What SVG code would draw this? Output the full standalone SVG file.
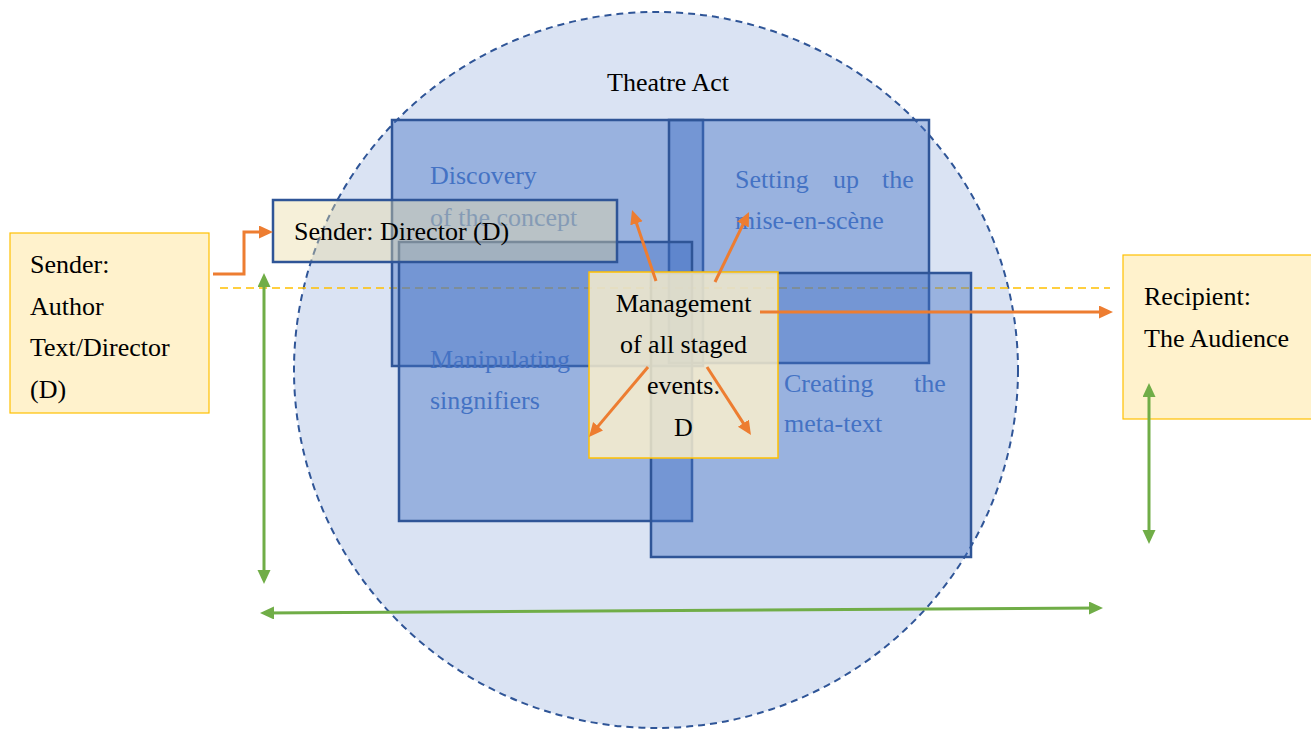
<svg xmlns="http://www.w3.org/2000/svg" width="1311" height="730" viewBox="0 0 1311 730">
  <style>
    .t { font-family: "Liberation Serif", "Times New Roman", serif; font-size: 26px; fill: #000; }
    .b { font-family: "Liberation Serif", "Times New Roman", serif; font-size: 26px; fill: #4472C4; }
    .phase { fill: #4472C4; fill-opacity: 0.43; stroke: #2F5597; stroke-width: 2.5; }
    .note { fill: #FFF2CC; stroke: #FFC000; stroke-width: 1.2; }
    .orange { fill: none; stroke: #ED7D31; stroke-width: 3; }
    .green { fill: none; stroke: #70AD47; stroke-width: 3; }
  </style>
  <defs>
    <marker id="arrO" markerUnits="userSpaceOnUse" markerWidth="16" markerHeight="14" refX="10" refY="6.5" orient="auto">
      <path d="M0,0 L14,6.5 L0,13 z" fill="#ED7D31"/>
    </marker>
    <marker id="arrG" markerUnits="userSpaceOnUse" markerWidth="16" markerHeight="14" refX="10" refY="6.5" orient="auto-start-reverse">
      <path d="M0,0 L14,6.5 L0,13 z" fill="#70AD47"/>
    </marker>
  </defs>

  <rect width="1311" height="730" fill="#FFFFFF"/>

  <!-- theatre act circle -->
  <g id="theatre-act">
    <ellipse cx="656" cy="370" rx="362" ry="358" fill="#DAE3F3" stroke="#2F5597" stroke-width="2" stroke-dasharray="7 5"/>
    <text class="t" x="607" y="91">Theatre Act</text>
  </g>

  <!-- communication axis -->
  <line x1="220" y1="288" x2="1110" y2="288" stroke="#FFC000" stroke-width="1.5" stroke-dasharray="8 5"/>

  <!-- phases of the staging -->
  <g id="discovery">
    <rect class="phase" x="392" y="120" width="311" height="246"/>
    <text class="b" x="430" y="184">Discovery</text>
    <text class="b" x="430" y="226">of the concept</text>
  </g>
  <g id="setting-up">
    <rect class="phase" x="669" y="120" width="260" height="243"/>
    <text class="b" x="735" y="188">Setting</text>
    <text class="b" x="833" y="188">up</text>
    <text class="b" x="882" y="188">the</text>
    <text class="b" x="735" y="229">mise-en-scène</text>
  </g>
  <g id="manipulating">
    <rect class="phase" x="399" y="242" width="293" height="279"/>
    <text class="b" x="430" y="368">Manipulating</text>
    <text class="b" x="430" y="409">singnifiers</text>
  </g>
  <g id="creating">
    <rect class="phase" x="651" y="273" width="320" height="284"/>
    <text class="b" x="784" y="392">Creating</text>
    <text class="b" x="914" y="392">the</text>
    <text class="b" x="784" y="432">meta-text</text>
  </g>

  <g id="sender-director">
    <rect x="273" y="200" width="344" height="62" fill="#E9D9A0" fill-opacity="0.4" stroke="#2F5597" stroke-width="2.5"/>
    <text class="t" x="294" y="240">Sender: Director (D)</text>
  </g>

  <g id="management">
    <rect x="589" y="272" width="189" height="186" fill="#FFF2CC" fill-opacity="0.8" stroke="#FFC000" stroke-width="1.5"/>
    <text class="t" x="683.5" y="312" text-anchor="middle">Management</text>
    <text class="t" x="683.5" y="353" text-anchor="middle">of all staged</text>
    <text class="t" x="683.5" y="394" text-anchor="middle">events.</text>
    <text class="t" x="683.5" y="436" text-anchor="middle">D</text>
  </g>

  <g id="sender-author">
    <rect class="note" x="10" y="233" width="199" height="180"/>
    <text class="t" x="30" y="273">Sender:</text>
    <text class="t" x="30" y="315">Author</text>
    <text class="t" x="30" y="356">Text/Director</text>
    <text class="t" x="30" y="398">(D)</text>
  </g>

  <g id="recipient">
    <rect class="note" x="1123" y="255" width="200" height="164"/>
    <text class="t" x="1144" y="305">Recipient:</text>
    <text class="t" x="1144" y="347">The Audience</text>
  </g>

  <!-- connectors -->
  <g id="connectors">
    <path class="orange" d="M213,274 H244 V232 H269" marker-end="url(#arrO)"/>
    <path class="orange" d="M760,312 H1109" marker-end="url(#arrO)"/>
    <path class="orange" d="M656,281 L633.3,213.8" marker-end="url(#arrO)"/>
    <path class="orange" d="M715,282 L747.3,215.6" marker-end="url(#arrO)"/>
    <path class="orange" d="M648,367 L591.6,433.9" marker-end="url(#arrO)"/>
    <path class="orange" d="M707,367 L748.8,431.6" marker-end="url(#arrO)"/>

    <path class="green" d="M264,277 V580" marker-start="url(#arrG)" marker-end="url(#arrG)"/>
    <path class="green" d="M264,613 L1099,608" marker-start="url(#arrG)" marker-end="url(#arrG)"/>
    <path class="green" d="M1149,387 V540" marker-start="url(#arrG)" marker-end="url(#arrG)"/>
  </g>
</svg>
